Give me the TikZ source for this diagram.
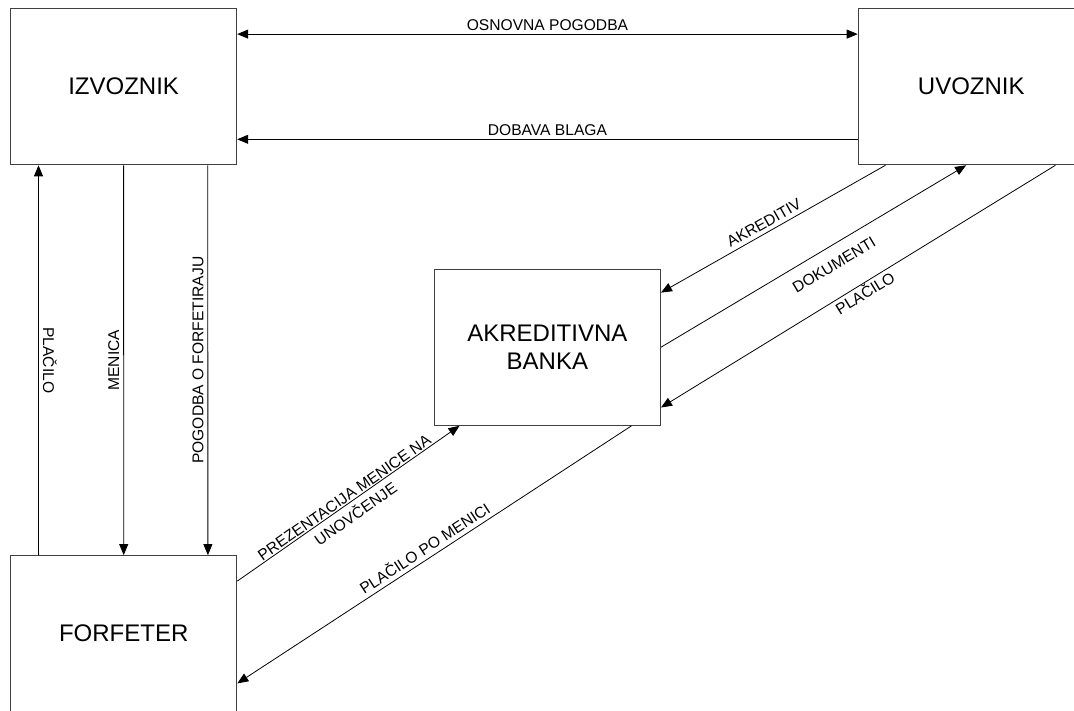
\documentclass[tikz,border=0pt]{standalone}
\usepackage{fontspec}
\setmainfont{Liberation Sans}
\usetikzlibrary{arrows.meta,calc}
\begin{document}
\begin{tikzpicture}[x=1pt,y=-1pt,
  >={Triangle[length=11pt,width=9pt]},
  party/.style={draw=black!75, line width=1.2pt, minimum width=226pt,
    minimum height=156pt, inner sep=0pt, align=center,
    font=\fontsize{24}{28}\selectfont},
  conn/.style={draw=black, line width=0.8pt},
  lbl/.style={font=\fontsize{15.6}{20}\selectfont, inner sep=3pt}
]
\clip (0,0) rectangle (1074,710);
\fill[white] (0,0) rectangle (1074,710);

% parties
\node[party] (izv) at (123.6,86.7) {IZVOZNIK};
\node[party] (uvz) at (971.3,86.7) {UVOZNIK};
\node[party] (frf) at (123.7,633.7) {FORFETER};
\node[party] (bnk) at (547.4,347.2) {AKREDITIVNA\\BANKA};

% exporter <-> importer
\draw[conn, <->] ($(izv.north east)+(0,26)$) -- ($(uvz.north west)+(0,26)$)
  node[lbl, midway, above] {OSNOVNA POGODBA};
\draw[conn, ->] ($(uvz.south west)+(0,-26)$) -- ($(izv.south east)+(0,-26)$)
  node[lbl, midway, above] {DOBAVA BLAGA};

% exporter <-> forfaiter
\draw[conn, ->] ($(frf.north west)+(28.5,0)$) -- ($(izv.south west)+(28.5,0)$)
  node[lbl, midway, rotate=-90, anchor=south, inner sep=4pt] {PLAČILO};
\draw[conn, ->] (izv.south) -- (frf.north)
  node[lbl, midway, rotate=90, anchor=south, inner sep=4pt] {MENICA};
\draw[conn, ->] ($(izv.south west)+(197.8,0)$) -- ($(frf.north west)+(197.8,0)$)
  node[lbl, midway, rotate=90, anchor=south, inner sep=4pt] {POGODBA O FORFETIRAJU};

% importer <-> bank
\draw[conn, <-] ($(bnk.north east)+(0,24)$) -- ($(uvz.south west)+(27.7,0)$)
  node[lbl, pos=0.48, sloped, above, inner sep=4pt] {AKREDITIV};
\draw[conn, ->] (bnk.east) -- ($(uvz.south west)+(108.4,0)$)
  node[lbl, pos=0.537, sloped, below, inner sep=12pt] {DOKUMENTI};
\draw[conn, <-] ($(bnk.south east)+(0,-18.3)$) -- ($(uvz.south west)+(197.7,0)$)
  node[lbl, pos=0.505, sloped, below, inner sep=1pt] {PLAČILO};

% forfaiter <-> bank
\draw[conn, ->] ($(frf.north east)+(0,26)$) -- ($(bnk.south west)+(25.7,0)$)
  node[lbl, midway, sloped, below, inner sep=0pt, yshift=13pt, align=center]
  {PREZENTACIJA MENICE NA\\UNOVČENJE};
\draw[conn, <-] ($(frf.north east)+(0,128.3)$) -- ($(bnk.south west)+(197.7,0)$)
  node[lbl, pos=0.49, sloped, above, inner sep=4pt] {PLAČILO PO MENICI};
\end{tikzpicture}
\end{document}
